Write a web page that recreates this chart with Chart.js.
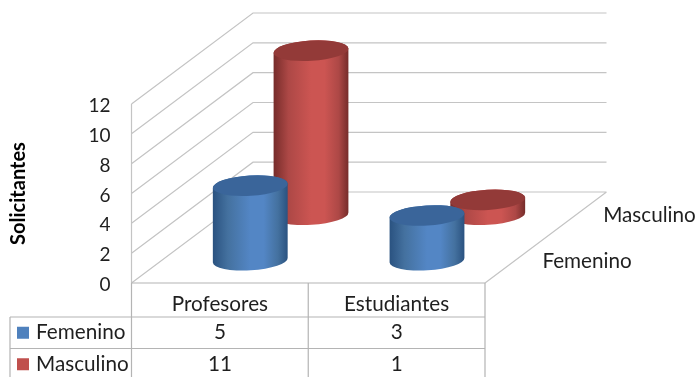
<!DOCTYPE html>
<html lang="es">
<head>
<meta charset="utf-8">
<title>Solicitantes</title>
<style>
  html, body { margin: 0; padding: 0; background: #fff; }
  canvas { display: block; }
</style>
<script src="https://cdn.jsdelivr.net/npm/chart.js@4"></script>
</head>
<body>
<canvas id="chart" width="697" height="377"></canvas>
<script>
const categories = ['Profesores', 'Estudiantes'];
const seriesNames = ['Femenino', 'Masculino'];
const femenino = [5, 3];
const masculino = [11, 1];
const seriesValues = [femenino, masculino];
const yTicks = [0, 2, 4, 6, 8, 10, 12];

const FONT = 'Lato, sans-serif';
const TEXT = '#1f1f1f';
const DEPTH_X = 121.5;
const DEPTH_Y = 91;
const TILT = -0.06;

// Base colour, lit centre, dark edge and top-cap colours of each series.
const palette = [
  { key: '#4f81bd', mid: '#5386c5', side: '#44719f', edge: '#2a5280', cap: '#3a659a' },
  { key: '#c0504d', mid: '#cc5552', side: '#ad4846', edge: '#762c2a', cap: '#933a38' }
];

// Depth fraction of a series along the third axis: front row 0.25, back row 0.75.
const depthOf = i => (i + 0.5) / seriesNames.length;

function cylinder(ctx, cx, topY, baseY, rx, c) {
  const ry = rx * 0.27;
  const grad = ctx.createLinearGradient(cx - rx, 0, cx + rx, 0);
  grad.addColorStop(0, c.edge);
  grad.addColorStop(0.2, c.side);
  grad.addColorStop(0.5, c.mid);
  grad.addColorStop(0.68, c.mid);
  grad.addColorStop(0.87, c.side);
  grad.addColorStop(1, c.edge);
  ctx.beginPath();
  ctx.ellipse(cx, baseY, rx, ry, TILT, 0, Math.PI);
  ctx.ellipse(cx, topY, rx, ry, TILT, Math.PI, 2 * Math.PI);
  ctx.closePath();
  ctx.fillStyle = grad;
  ctx.fill();
  ctx.beginPath();
  ctx.ellipse(cx, topY, rx, ry, TILT, 0, 2 * Math.PI);
  ctx.fillStyle = c.cap;
  ctx.fill();
}

const box3d = {
  id: 'box3d',
  // Side wall, back wall and floor of the 3-D frame, one line per y tick.
  beforeDatasetsDraw(chart) {
    const { ctx, chartArea: a, scales: { y } } = chart;
    ctx.save();
    ctx.strokeStyle = '#c4c4c4';
    ctx.lineWidth = 1.2;
    ctx.beginPath();
    ctx.moveTo(a.left, y.getPixelForValue(yTicks[yTicks.length - 1]));
    ctx.lineTo(a.left, a.bottom);
    yTicks.forEach(t => {
      const py = y.getPixelForValue(t);
      ctx.moveTo(a.left, py);
      ctx.lineTo(a.left + DEPTH_X, py - DEPTH_Y);
      ctx.lineTo(a.right + DEPTH_X, py - DEPTH_Y);
    });
    ctx.moveTo(a.right, a.bottom);
    ctx.lineTo(a.right + DEPTH_X, a.bottom - DEPTH_Y);
    ctx.stroke();
    ctx.restore();
  },
  // Columns back row first, then the data table and the depth axis labels.
  afterDatasetsDraw(chart) {
    const { ctx, chartArea: a, scales: { x } } = chart;
    ctx.save();
    for (let i = seriesNames.length - 1; i >= 0; i--) {
      const d = depthOf(i);
      chart.getDatasetMeta(i).data.forEach(bar => {
        cylinder(ctx, bar.x + d * DEPTH_X, bar.y - d * DEPTH_Y, bar.base - d * DEPTH_Y, bar.width / 2, palette[i]);
      });
    }

    const rowTop = 317, rowH = 31.5, tableLeft = 10;
    const last = chart.height;
    const halfCat = (x.getPixelForValue(1) - x.getPixelForValue(0)) / 2;
    ctx.strokeStyle = '#b4b4b4';
    ctx.lineWidth = 1.2;
    ctx.beginPath();
    ctx.moveTo(a.left, a.bottom); ctx.lineTo(a.right, a.bottom);
    seriesNames.forEach((_, i) => {
      ctx.moveTo(tableLeft, rowTop + i * rowH);
      ctx.lineTo(a.right, rowTop + i * rowH);
    });
    ctx.moveTo(tableLeft, rowTop); ctx.lineTo(tableLeft, last);
    [a.left, x.getPixelForValue(0) + halfCat, a.right].forEach(px => {
      ctx.moveTo(px, a.bottom); ctx.lineTo(px, last);
    });
    ctx.stroke();

    ctx.font = '20.7px ' + FONT;
    ctx.fillStyle = TEXT;
    ctx.textBaseline = 'middle';
    seriesNames.forEach((name, i) => {
      const cy = rowTop + (i + 0.5) * rowH;
      ctx.fillStyle = palette[i].key;
      ctx.fillRect(tableLeft + 7, cy - 6, 12, 12);
      ctx.fillStyle = TEXT;
      ctx.textAlign = 'left';
      ctx.fillText(name, tableLeft + 26, cy);
      ctx.textAlign = 'center';
      seriesValues[i].forEach((v, j) => ctx.fillText(String(v), x.getPixelForValue(j), cy));
      // Depth axis label, level with the floor at this series' row.
      const d = depthOf(i);
      ctx.textAlign = 'left';
      ctx.fillText(name, a.right + d * DEPTH_X + 27, a.bottom - d * DEPTH_Y + 1);
    });
    ctx.restore();
  }
};

new Chart(document.getElementById('chart'), {
  type: 'bar',
  data: {
    labels: categories,
    datasets: seriesNames.map((name, i) => ({
      label: name,
      data: seriesValues[i],
      backgroundColor: 'transparent',
      borderWidth: 0
    }))
  },
  options: {
    responsive: false,
    animation: false,
    events: [],
    layout: { padding: { top: 104, right: 212, bottom: 0, left: 0 } },
    plugins: { legend: { display: false }, tooltip: { enabled: false }, title: { display: false } },
    datasets: { bar: { grouped: false, categoryPercentage: 1, barPercentage: 0.424 } },
    scales: {
      x: {
        grid: { display: false, drawTicks: false },
        border: { display: false },
        ticks: { color: TEXT, font: { family: FONT, size: 20.7 }, padding: 9, maxRotation: 0 },
        afterFit: s => { s.height = 94; }
      },
      y: {
        min: 0,
        max: 12,
        afterBuildTicks: s => { s.ticks = yTicks.map(value => ({ value })); },
        grid: { display: false, drawTicks: false },
        border: { display: false },
        ticks: { color: TEXT, font: { family: FONT, size: 19 }, padding: 21, labelOffset: 2 },
        title: {
          display: true,
          text: 'Solicitantes',
          color: '#000',
          font: { family: FONT, size: 20, weight: 'bold' },
          padding: { top: 7, bottom: 0 }
        },
        afterFit: s => { s.width = 131.5; }
      }
    }
  },
  plugins: [box3d]
});
</script>
</body>
</html>
